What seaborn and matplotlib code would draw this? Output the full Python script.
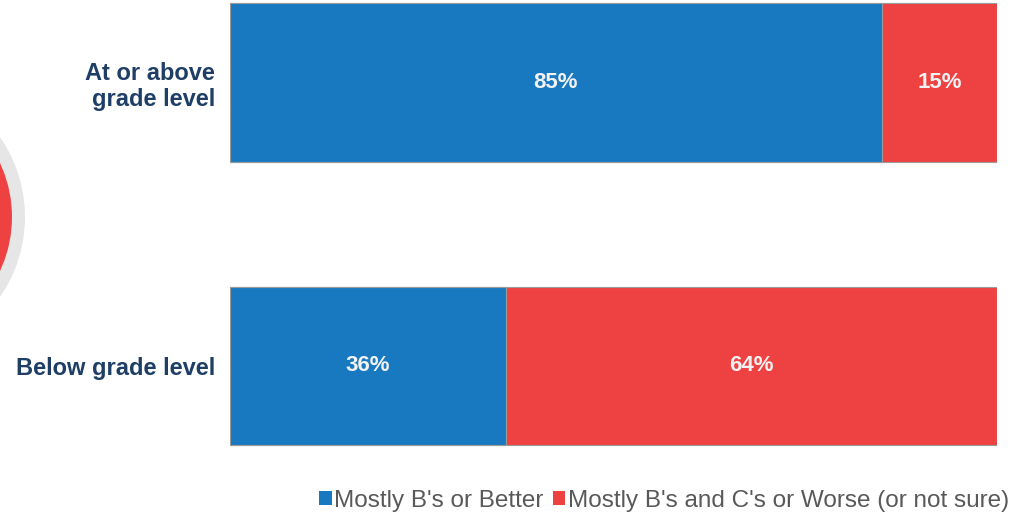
import numpy as np
import pandas as pd
import matplotlib
matplotlib.use("Agg")
import matplotlib.pyplot as plt
from matplotlib.patches import Patch, Circle
import seaborn as sns

categories = ["At or above\ngrade level", "Below grade level"]
better = [85, 36]
worse = [15, 64]
series_names = ["Mostly B's or Better", "Mostly B's and C's or Worse (or not sure)"]

blue = "#1879C1"
red = "#EE4242"
navy = "#1F3E66"

sns.set_theme(style="white")
plt.rcParams['font.family'] = ['Liberation Sans', 'DejaVu Sans']

df = pd.DataFrame({"category": categories, "better": better, "worse": worse})
df["total"] = df["better"] + df["worse"]

fig = plt.figure(figsize=(10.17, 5.16), dpi=100)
ax = fig.add_axes([0.2262, 0.1085, 0.7541, 0.8915])

# stacked bars: full length in red, blue part on top
sns.barplot(data=df, x="total", y="category", color=red, width=0.56,
            edgecolor="#9a9a9a", linewidth=0.8, saturation=1, ax=ax)
sns.barplot(data=df, x="better", y="category", color=blue, width=0.56,
            edgecolor="#9a9a9a", linewidth=0.8, saturation=1, ax=ax)

for i, (b, w) in enumerate(zip(better, worse)):
    ax.text(b / 2, i, f"{b}%", ha="center", va="center", color="#F2F2F2",
            fontsize=16, fontweight="bold")
    ax.text(b + w / 2, i, f"{w}%", ha="center", va="center", color="#F2F2F2",
            fontsize=16, fontweight="bold")

ax.set_xlim(0, 100)
ax.set_ylim(1.332, -0.291)
ax.set_xlabel("")
ax.set_ylabel("")
ax.set_xticks([])
ax.tick_params(axis="y", length=0, pad=11)
ax.set_yticks(range(len(categories)))
ax.set_yticklabels(categories, fontsize=17, fontweight="bold", color=navy,
                   ha="right", linespacing=1.15)
for s in ax.spines.values():
    s.set_visible(False)

# decorative circle on the left edge
fig.add_artist(Circle((-1.155, 2.99), 1.405, transform=fig.dpi_scale_trans,
                      facecolor="#E6E6E6", edgecolor="none"))
fig.add_artist(Circle((-1.155, 2.99), 1.275, transform=fig.dpi_scale_trans,
                      facecolor=red, edgecolor="none"))

handles = [Patch(facecolor=blue, edgecolor="none"), Patch(facecolor=red, edgecolor="none")]
leg = fig.legend(handles, series_names, loc="center", bbox_to_anchor=(0.653, 0.03),
                 ncol=2, frameon=False, fontsize=17.5, handlelength=0.5,
                 handleheight=0.5, handletextpad=0.1, columnspacing=0.4)
for t in leg.get_texts():
    t.set_color("#595959")

fig.savefig("out.png", dpi=100)
